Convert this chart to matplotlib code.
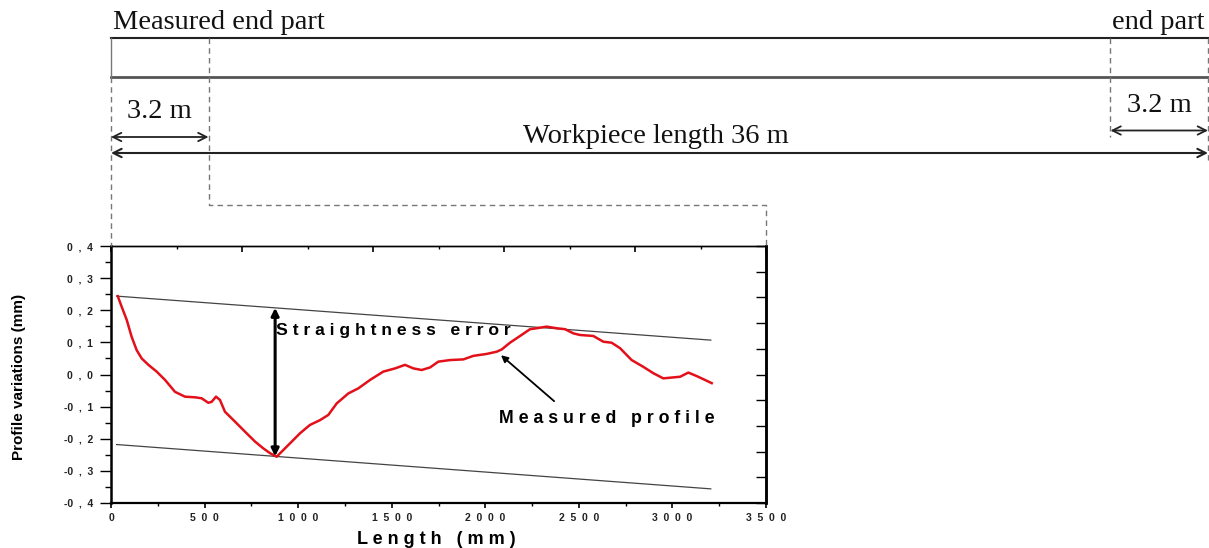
import numpy as np
import matplotlib
matplotlib.use("Agg")
import matplotlib.pyplot as plt
from matplotlib.ticker import MultipleLocator, FuncFormatter

# workpiece sketch (metres)
WORK_LEN = 36.0
END_LEN = 3.2

# measured profile (mm, mm)
profile_x = [36, 57, 84, 110, 137, 164, 200, 244, 289, 342, 395, 449, 484, 520, 538,
             561, 582, 609, 663, 716, 770, 814, 850, 885, 957, 1010, 1063, 1117, 1161,
             1206, 1268, 1322, 1384, 1455, 1518, 1571, 1616, 1660, 1705, 1749, 1812,
             1883, 1936, 2007, 2061, 2088, 2132, 2186, 2239, 2275, 2328, 2382, 2426,
             2471, 2506, 2577, 2631, 2675, 2720, 2782, 2844, 2898, 2951, 3005, 3041,
             3085, 3130, 3174, 3210]
profile_y = [0.244, 0.211, 0.170, 0.118, 0.076, 0.050, 0.030, 0.009, -0.017, -0.054,
             -0.069, -0.071, -0.074, -0.088, -0.085, -0.069, -0.079, -0.116, -0.147,
             -0.178, -0.209, -0.230, -0.245, -0.256, -0.214, -0.183, -0.157, -0.142,
             -0.126, -0.090, -0.059, -0.043, -0.017, 0.009, 0.019, 0.030, 0.019, 0.014,
             0.022, 0.040, 0.045, 0.047, 0.058, 0.064, 0.071, 0.078, 0.099, 0.120,
             0.141, 0.144, 0.149, 0.144, 0.141, 0.128, 0.123, 0.120, 0.102, 0.099,
             0.082, 0.045, 0.024, 0.004, -0.012, -0.009, -0.007, 0.006, -0.005,
             -0.017, -0.027]

# envelope lines
bound_x = [30, 3205]
upper_y = [0.244, 0.107]
lower_y = [-0.218, -0.356]

error_at = 877                       # mm, where the straightness arrow is
profile_arrow_tail = (2368, -0.083)
profile_arrow_head = (2084, 0.060)

W, H = 1209, 548
AX_L, AX_R, AX_T, AX_B = 111, 766, 246, 503   # pixel box of the plot

sans = ["Liberation Sans", "DejaVu Sans"]
serif = ["Liberation Serif", "DejaVu Serif"]


def spaced(s, sep=" "):
    return sep.join(s)


fig = plt.figure(figsize=(W / 100, H / 100), dpi=100)
ax = fig.add_axes([AX_L / W, 1 - AX_B / H, (AX_R - AX_L) / W, (AX_B - AX_T) / H])

ax.plot(profile_x, profile_y, color="#e3101a", lw=1.8, zorder=3)
ax.plot(bound_x, upper_y, color="#444444", lw=0.9)
ax.plot(bound_x, lower_y, color="#444444", lw=0.9)

top = np.interp(error_at, bound_x, upper_y)
bot = np.interp(error_at, bound_x, lower_y)
ax.annotate("", xy=(error_at, top), xytext=(error_at, bot),
            arrowprops=dict(arrowstyle="<|-|>", lw=2.2, color="black",
                            mutation_scale=11, shrinkA=0, shrinkB=0))
ax.text(error_at + 5, 0.138, "S t r a i g h t n e s s   e r r o r",
        fontsize=12.6, fontweight="bold", family=sans, va="center", ha="left")

ax.annotate("", xy=profile_arrow_head, xytext=profile_arrow_tail,
            arrowprops=dict(arrowstyle="-|>", lw=1.3, color="black",
                            mutation_scale=10, shrinkA=0, shrinkB=0))
ax.text(2075, -0.137, "M e a s u r e d   p r o f i l e",
        fontsize=12.8, fontweight="bold", family=sans, va="center", ha="left")

ax.set_xlim(0, 3500)
ax.set_ylim(-0.4, 0.4)
ax.xaxis.set_major_locator(MultipleLocator(500))
ax.xaxis.set_minor_locator(MultipleLocator(250))
ax.yaxis.set_major_locator(MultipleLocator(0.1))
ax.yaxis.set_minor_locator(MultipleLocator(0.05))


def yfmt(v, pos):
    s = f"{v:.1f}".replace(".", ",")
    if s.startswith("-"):
        return "-" + spaced(s[1:], "  ")
    return spaced(s, "  ")


ax.xaxis.set_major_formatter(FuncFormatter(lambda v, p: spaced(str(int(round(v))), "  ")))
ax.yaxis.set_major_formatter(FuncFormatter(yfmt))

ax.tick_params(axis="y", which="major", direction="out", length=8, width=1, pad=5)
ax.tick_params(axis="y", which="minor", direction="out", length=4.5, width=1)
ax.tick_params(axis="x", which="major", direction="out", length=3.5, width=1.2, pad=4)
ax.tick_params(axis="x", which="minor", direction="out", length=2.5, width=1)
for lab in ax.get_xticklabels() + ax.get_yticklabels():
    lab.set_fontsize(7.5)
    lab.set_fontweight("bold")
    lab.set_family(sans)
    lab.set_color("#222222")

ax.spines["left"].set_linewidth(1.8)
ax.spines["bottom"].set_linewidth(1.6)
ax.spines["right"].set_linewidth(1.8)
ax.spines["top"].set_linewidth(1.0)

# top / right tick marks (10 divisions each, no labels)
secx = ax.secondary_xaxis("top")
secx.set_xticks(np.arange(0, 3501, 700))
secx.xaxis.set_minor_locator(MultipleLocator(350))
secx.tick_params(which="major", direction="in", length=4, width=1.2, labeltop=False)
secx.tick_params(which="minor", direction="in", length=2.5, width=1)
secx.spines["top"].set_linewidth(1.0)
secy = ax.secondary_yaxis("right")
secy.set_yticks(np.linspace(-0.4, 0.4, 11))
secy.tick_params(direction="in", length=7, width=1, labelright=False)
secy.spines["right"].set_linewidth(1.8)

ax.set_xlabel("L e n g t h   ( m m )", fontsize=13, fontweight="bold",
              family=sans, va="center")
ax.xaxis.set_label_coords((436 - AX_L) / (AX_R - AX_L), (AX_B - 540) / (AX_B - AX_T))
ax.set_ylabel("Profile variations (mm)", fontsize=11, fontweight="bold",
              family=sans, va="center")
ax.yaxis.set_label_coords((19 - AX_L) / (AX_R - AX_L), (AX_B - 377) / (AX_B - AX_T))

# workpiece sketch on top, in figure pixels
ov = fig.add_axes([0, 0, 1, 1])
ov.set_xlim(0, W)
ov.set_ylim(H, 0)
ov.axis("off")
ov.set_facecolor("none")


def m2px(m):
    return AX_L + m * (1208 - AX_L) / WORK_LEN


x0 = m2px(0)
x1 = m2px(END_LEN)
x2 = m2px(WORK_LEN - END_LEN)
x3 = m2px(WORK_LEN)
y_top, y_bot = 38, 77
dash = dict(color="#777777", lw=1.0, ls=(0, (4, 3)))

ov.plot([x0, x3], [y_top, y_top], color="#222222", lw=1.5)
ov.plot([x0, x3], [y_bot, y_bot], color="#555555", lw=2.0)
ov.plot([x0, x0], [y_top, y_bot], color="#777777", lw=1.0)
ov.plot([x0, x0], [y_bot, AX_T], **dash)
ov.plot([x1, x1, AX_R, AX_R], [y_top, 205, 205, AX_T], **dash)
ov.plot([x2, x2], [y_top, 137], **dash)
ov.plot([x3, x3], [y_top, 160], **dash)

arrow = dict(arrowstyle="<->", color="#222222", mutation_scale=15, shrinkA=0, shrinkB=0)
ov.annotate("", xy=(x1, 137), xytext=(x0, 137), arrowprops=dict(lw=1.3, **arrow))
ov.annotate("", xy=(x3, 153), xytext=(x0, 153), arrowprops=dict(lw=1.5, **arrow))
ov.annotate("", xy=(x3, 130.5), xytext=(x2, 130.5), arrowprops=dict(lw=1.3, **arrow))

tkw = dict(family=serif, fontsize=20.5, va="baseline", color="#111111")
ov.text(113, 29, "Measured end part", ha="left", **tkw)
ov.text(1205, 29, "end part", ha="right", **tkw)
ov.text((x0 + x1) / 2, 118, f"{END_LEN} m", ha="center", **tkw)
ov.text((x2 + x3) / 2, 112.5, f"{END_LEN} m", ha="center", **tkw)
ov.text(656, 143, f"Workpiece length {WORK_LEN:.0f} m", ha="center", **tkw)

fig.savefig("out.png", dpi=100, facecolor="white")
